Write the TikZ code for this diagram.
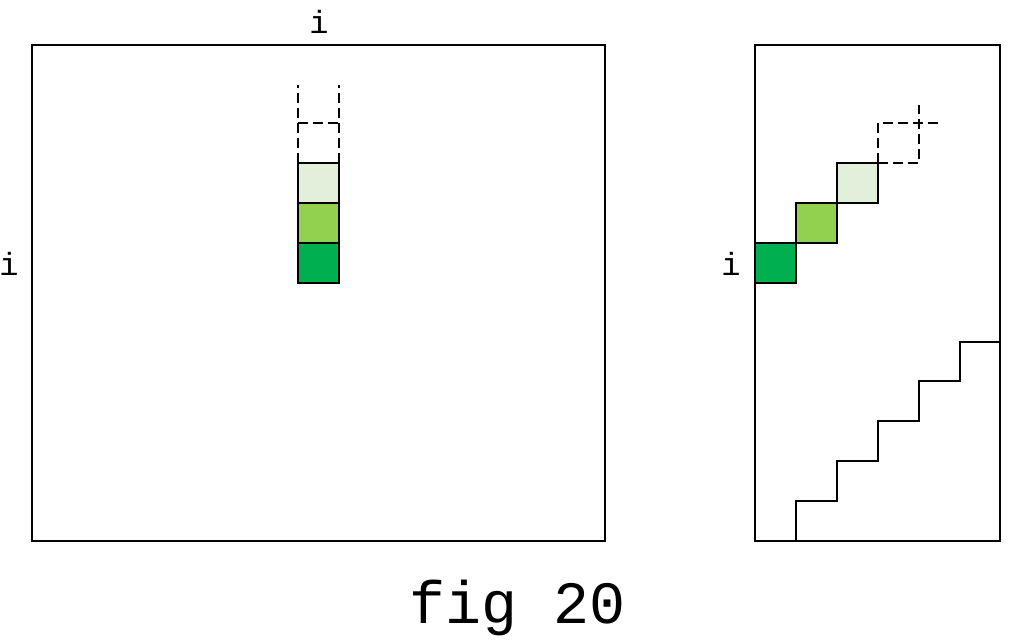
\documentclass[tikz,border=0pt]{standalone}
\usepackage{fontspec}
\setmonofont{Liberation Mono}
\definecolor{dkgreen}{HTML}{00B050}
\definecolor{mdgreen}{HTML}{92D050}
\definecolor{ltgreen}{HTML}{E2EFDA}
\begin{document}
\begin{tikzpicture}[x=1pt,y=-1pt,line width=2.8pt,
    lbl/.style={font=\ttfamily\fontsize{32}{32}\selectfont, inner sep=0pt, anchor=base},
    gap/.style={dash pattern=on 10pt off 5pt}]
        \useasboundingbox (0,0) rectangle (1013,643);
        % left matrix
        \draw (32,45) rectangle (605,541);
        \filldraw[fill=dkgreen] (298,243) rectangle (339,283);
        \filldraw[fill=mdgreen] (298,203) rectangle (339,243);
        \filldraw[fill=ltgreen] (298,163) rectangle (339,203);
        \draw[gap] (298,163) -- (298,85);
        \draw[gap] (339,163) -- (339,85);
        \draw[gap] (298,123) -- (339,123);

        % right matrix
        \draw (755,45) rectangle (1000,541);
        \filldraw[fill=dkgreen] (755,243) rectangle (796,283);
        \filldraw[fill=mdgreen] (796,203) rectangle (837,243);
        \filldraw[fill=ltgreen] (837,163) rectangle (878,203);
        \draw[gap] (878,163) -- (878,123) -- (939,123);
        \draw[gap] (878,163) -- (919,163) -- (919,105);
        \draw (796,541) |- (837,501) |- (878,461) |- (919,421) |- (960,381) |- (1000,342);

        \node[lbl] (itop) at (319,33) {i};
        \node[lbl] (ileft) at (9,275) {i};
        \node[lbl] (iright) at (731,275) {i};
        \node[lbl, font=\ttfamily\fontsize{60}{60}\selectfont] (cap) at (518,623) {fig 20};
    \end{tikzpicture}
\end{document}
